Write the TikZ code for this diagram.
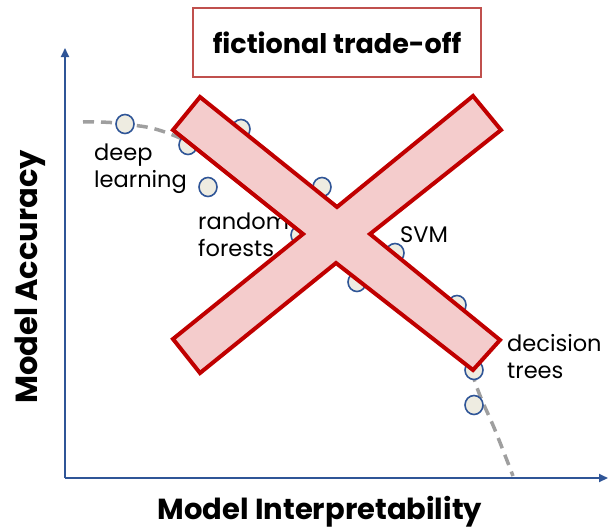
\documentclass[tikz,border=0pt]{standalone}
\usepackage{fontspec}
\setmainfont{Poppins}
\usepackage{xcolor}
\usetikzlibrary{arrows.meta,shapes.geometric}

\definecolor{axisblue}{HTML}{2F5597}
\definecolor{dotfill}{HTML}{EEECE1}
\definecolor{crossred}{HTML}{C00000}
\definecolor{crossfill}{HTML}{F4CCCC}
\definecolor{boxred}{HTML}{C0504D}

\begin{document}
\begin{tikzpicture}[x=1pt,y=-1pt,
		axis/.style={axisblue,line width=2pt,-{Triangle[length=9pt,width=8pt]}},
		dot/.style={ellipse,draw=axisblue,fill=dotfill,line width=1.6pt,minimum width=18pt,minimum height=19pt,inner sep=0pt},
		lbl/.style={font=\fontsize{22.5}{27}\selectfont,align=left,inner sep=0pt},
		bigtxt/.style={font=\fontsize{29}{34}\selectfont\bfseries,inner sep=0pt}]
		\useasboundingbox (0,0) rectangle (609,530);
		\coordinate (O) at (65,478);
		\coordinate (ytop) at (65,48);
		\coordinate (xend) at (608,478);
		\draw [axis] (O) -- (ytop);
		\draw [axis] (O) -- (xend);
		\node [bigtxt,rotate=90,font=\fontsize{30.5}{34}\selectfont\bfseries] (ylab) at (30,277) {Model Accuracy};
		\node [bigtxt] (xlab) at (320,512) {Model Interpretability};
		\node [draw=boxred,line width=1.4pt,minimum width=288pt,minimum height=69pt,font=\fontsize{27}{32}\selectfont\bfseries] (title) at (337,42.5) {fictional trade-off};
		\draw [gray!75,line width=3.5pt,dash pattern=on 11pt off 7pt] plot [smooth,tension=0.6] coordinates {(83,122) (125,124) (180,138) (300,200) (400,268) (455,318) (476,385) (495,430) (513,476)};
		\foreach \n/\p in {1/{125,124},2/{188,145},3/{241,129},4/{208,187},5/{322,187},6/{300,235},7/{395,253},8/{357,282},9/{457,305},10/{474,370},11/{474,405}}
			\node [dot] (d\n) at (\p) {};
		\node [lbl,anchor=west] (deep) at (94,169) {deep\\learning};
		\node [lbl,anchor=west] (forest) at (198,235) {random\\forests};
		\node [lbl,anchor=west] (svm) at (400,235) {SVM};
		\node [lbl,anchor=west] (tree) at (507,357) {decision\\trees};
		\draw [crossred,fill=crossfill,line width=4pt,line join=miter] (200,97) -- (337,207) -- (473,96) -- (501,130) -- (370,234) -- (500,340) -- (473,370) -- (336,263) -- (200,373) -- (173,339) -- (303,234) -- (173,130) -- cycle;
	\end{tikzpicture}
\end{document}
